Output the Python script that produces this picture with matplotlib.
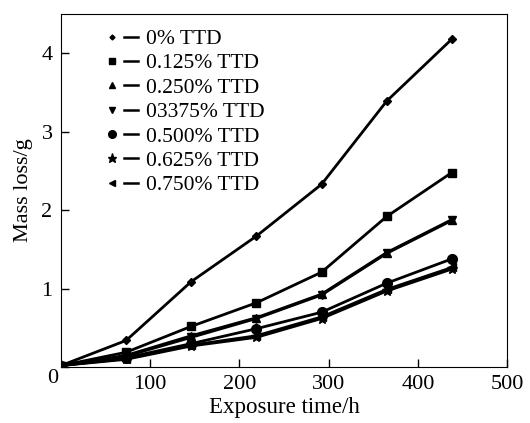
import matplotlib.pyplot as plt
from matplotlib.legend_handler import HandlerTuple

plt.rcParams['font.family'] = ['Liberation Serif', 'DejaVu Serif']

# exposure times (h)
hours = [0, 73, 146, 219, 292, 365, 438]

# mass loss (g) for each inhibitor content
ttd_0 = [0.02, 0.34, 1.09, 1.67, 2.33, 3.39, 4.18]
ttd_0125 = [0.02, 0.19, 0.52, 0.82, 1.21, 1.92, 2.48]
ttd_0250 = [0.02, 0.15, 0.40, 0.63, 0.93, 1.46, 1.88]
ttd_0375 = [0.02, 0.14, 0.38, 0.62, 0.92, 1.45, 1.87]
ttd_0500 = [0.02, 0.12, 0.30, 0.49, 0.70, 1.07, 1.38]
ttd_0625 = [0.02, 0.10, 0.27, 0.38, 0.62, 0.97, 1.25]
ttd_0750 = [0.02, 0.11, 0.28, 0.40, 0.64, 0.99, 1.27]

labels = ['0% TTD', '0.125% TTD', '0.250% TTD', '03375% TTD',
          '0.500% TTD', '0.625% TTD', '0.750% TTD']
series = [ttd_0, ttd_0125, ttd_0250, ttd_0375, ttd_0500, ttd_0625, ttd_0750]
markers = ['D', 's', '^', 'v', 'o', '*', '<']
msizes = [4, 6, 6, 6, 7, 8, 6]

fig = plt.figure(figsize=(5.3, 4.23), dpi=100)
ax = fig.add_axes([0.115, 0.132, 0.842, 0.835])

handles = []
for ys, m, ms, lab in zip(series, markers, msizes, labels):
    ax.plot(hours, ys, color='black', lw=2.0, marker=m, ms=ms)
    hm, = ax.plot([], [], color='black', ls='none', marker=m, ms=ms - 1.5)
    hl, = ax.plot([], [], color='black', lw=1.8)
    handles.append((hm, hl))

ax.legend(handles, labels, loc='upper left',
          handler_map={tuple: HandlerTuple(ndivide=None, pad=0.25)},
          frameon=False, fontsize=15.5, handlelength=1.55, handletextpad=0.35,
          labelspacing=0.2, borderaxespad=0.3, bbox_to_anchor=(0.065, 1.0))

ax.set_xlim(0, 500)
ax.set_ylim(0, 4.5)
ax.set_xticks([100, 200, 300, 400, 500])
ax.set_yticks([0, 1, 2, 3, 4])
ax.tick_params(direction='in', labelsize=16, length=6, width=1, pad=6)
ax.text(-3, -0.02, '0', fontsize=16, ha='right', va='top')
ax.set_yticklabels(['', '1', '2', '3', '4'])
ax.set_xlabel('Exposure time/h', fontsize=16.5, labelpad=2)
ax.set_ylabel('Mass loss/g', fontsize=16, labelpad=6)

fig.savefig('out.png', dpi=100)
